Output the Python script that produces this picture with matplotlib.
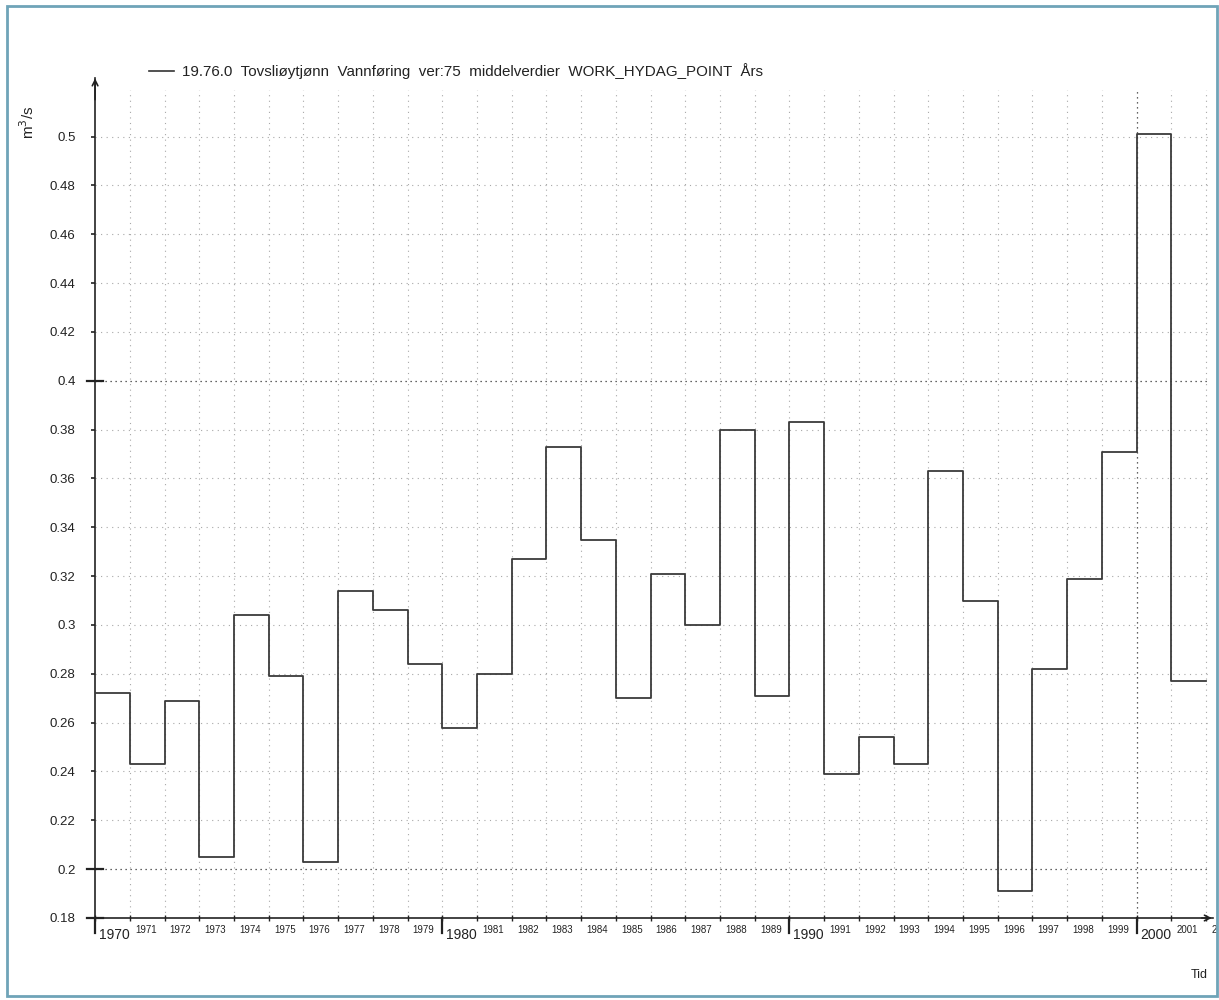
import matplotlib
matplotlib.use("Agg")
from matplotlib import pyplot as plt
from matplotlib.patches import Rectangle
from matplotlib.transforms import Bbox, TransformedBbox

plt.rcParams['font.family'] = ['Liberation Sans', 'DejaVu Sans']

years = list(range(1970, 2002))
flow = [0.272, 0.243, 0.269, 0.205, 0.304, 0.279, 0.203, 0.314, 0.306, 0.284,
        0.258, 0.280, 0.327, 0.373, 0.335, 0.270, 0.321, 0.300, 0.380, 0.271,
        0.383, 0.239, 0.254, 0.243, 0.363, 0.310, 0.191, 0.282, 0.319, 0.371,
        0.501, 0.277]
y_ticks = [0.18, 0.2, 0.22, 0.24, 0.26, 0.28, 0.3, 0.32, 0.34, 0.36, 0.38,
           0.4, 0.42, 0.44, 0.46, 0.48, 0.5]
y_labels = ['0.18', '0.2', '0.22', '0.24', '0.26', '0.28', '0.3', '0.32', '0.34',
            '0.36', '0.38', '0.4', '0.42', '0.44', '0.46', '0.48', '0.5']
legend_text = "19.76.0  Tovsliøytjønn  Vannføring  ver:75  middelverdier  WORK_HYDAG_POINT  Års"

x0, x1 = 1970, 2002.2
y0, y1 = 0.18, 0.524

fig = plt.figure(figsize=(12.19, 10), dpi=100)
ax = fig.add_axes([0.078, 0.082, 0.917, 0.840])
ax.set_xlim(x0, x1)
ax.set_ylim(y0, y1)

# grid
light = dict(color='#a8a8a8', lw=0.8, ls=(0, (1, 4)), zorder=1)
dark = dict(color='#333333', lw=0.9, ls=(0, (1, 3)), zorder=1)
for yr in range(1971, 2003):
    ax.plot([yr, yr], [y0, 0.519], **(dark if yr == 2000 else light))
for v in y_ticks[1:]:
    ax.plot([x0, x1 - 0.1], [v, v], **(dark if v in (0.2, 0.4) else light))

# data
edges = years + [2002]
vals = flow + [flow[-1]]
ax.step(edges, vals, where='post', color='#3a3a3a', lw=1.3, zorder=3)

# axes look
for s in ['top', 'right']:
    ax.spines[s].set_visible(False)
for s in ['left', 'bottom']:
    ax.spines[s].set_color('#222222')
    ax.spines[s].set_linewidth(1.2)
ax.annotate('', xy=(x1 + 0.05, y0), xytext=(x1 - 0.4, y0),
            arrowprops=dict(arrowstyle='->', color='#222222', lw=1.2), annotation_clip=False)
ax.annotate('', xy=(x0, y1 + 0.001), xytext=(x0, y1 - 0.01),
            arrowprops=dict(arrowstyle='->', color='#222222', lw=1.2), annotation_clip=False)

ax.set_yticks(y_ticks)
ax.set_yticklabels(y_labels, fontsize=9.5, color='#222222')
ax.tick_params(axis='y', which='major', length=3, direction='out', width=1.2, pad=11, color='#222222')
ytrans = ax.get_yaxis_transform()
for v in (0.18, 0.2, 0.4):
    ax.plot([-0.007, 0.007], [v, v], color='#222222', lw=1.6, transform=ytrans, clip_on=False, zorder=4)

ax.set_xticks(list(range(1970, 2003)))
ax.set_xticklabels([])
ax.tick_params(axis='x', which='major', length=4, direction='inout', width=1.0, color='#222222')

# year labels, last one cut by the frame like the original
frame_clip = TransformedBbox(Bbox([[0.0, 0.0], [0.998, 1.0]]), fig.transFigure)
trans = ax.get_xaxis_transform()
for yr in range(1970, 2003):
    if yr % 10 == 0:
        ax.plot([yr, yr], [0, -0.018], color='#222222', lw=1.6, transform=trans, clip_on=False)
        ax.text(yr + 0.1, -0.012, str(yr), fontsize=10, ha='left', va='top',
                transform=trans, color='#222222')
    else:
        t = ax.text(yr + 0.15, -0.008, str(yr), fontsize=7, ha='left', va='top',
                    transform=trans, color='#222222')
        t.set_clip_box(frame_clip)
        t.set_clip_on(True)

# texts
fig.text(0.023, 0.878, 'm$^3$/s', rotation=90, fontsize=11, ha='center', va='center', color='#222222')
fig.text(0.984, 0.025, 'Tid', fontsize=9, ha='center', va='center', color='#222222')
fig.add_artist(plt.Line2D([0.122, 0.143], [0.929, 0.929], color='#333333', lw=1.2))
fig.text(0.149, 0.929, legend_text, fontsize=10.9, ha='left', va='center', color='#222222')

fig.add_artist(Rectangle((0.006, 0.004), 0.992, 0.990, transform=fig.transFigure,
                         fill=False, edgecolor='#6fa4b8', lw=2))

fig.savefig('out.png', dpi=100)
